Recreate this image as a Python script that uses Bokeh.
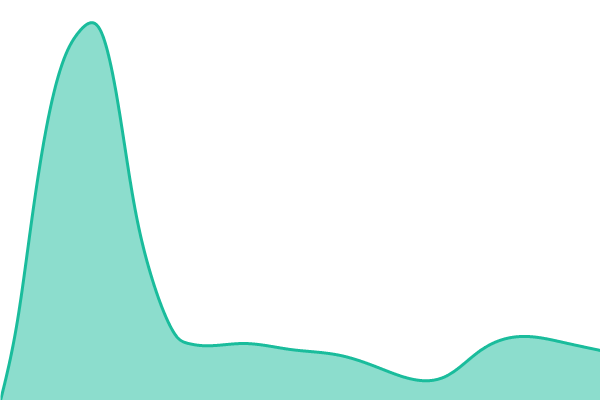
import numpy as np
from bokeh.plotting import figure
from bokeh.embed import file_html
from bokeh.resources import INLINE
from bokeh.models import Range1d

# Data (x position, value)
xs = [0, 17, 33, 50, 67, 78, 88, 100, 117, 133, 150, 167, 177, 188, 200, 243, 290, 340, 380, 420, 447, 480, 527, 563, 600]
values = [0, 80, 193, 293, 350, 368, 377, 370, 300, 200, 127, 80, 63, 57, 55, 57, 51, 45, 32, 20, 25, 50, 64, 58, 50]

LINE_COLOR = "#1abc9c"


def natural_spline(x, y, n=1500):
    x = np.asarray(x, float)
    y = np.asarray(y, float)
    k = len(x)
    h = np.diff(x)
    A = np.zeros((k, k))
    b = np.zeros(k)
    A[0, 0] = 1
    A[-1, -1] = 1
    for i in range(1, k - 1):
        A[i, i - 1] = h[i - 1]
        A[i, i] = 2 * (h[i - 1] + h[i])
        A[i, i + 1] = h[i]
        b[i] = 6 * ((y[i + 1] - y[i]) / h[i] - (y[i] - y[i - 1]) / h[i - 1])
    M = np.linalg.solve(A, b)
    xx = np.linspace(x[0], x[-1], n)
    idx = np.clip(np.searchsorted(x, xx) - 1, 0, k - 2)
    hi = h[idx]
    a = x[idx + 1] - xx
    c = xx - x[idx]
    yy = (M[idx] * a**3 / (6 * hi) + M[idx + 1] * c**3 / (6 * hi)
          + (y[idx] / hi - M[idx] * hi / 6) * a + (y[idx + 1] / hi - M[idx + 1] * hi / 6) * c)
    return xx, yy


sx, sy = natural_spline(xs, values)

p = figure(width=600, height=400, output_backend="svg", toolbar_location=None,
           x_range=Range1d(0, 600), y_range=Range1d(0, 400),
           min_border=0, min_border_left=0, min_border_right=0,
           min_border_top=0, min_border_bottom=0)
p.axis.visible = False
p.grid.visible = False
p.outline_line_color = None
p.background_fill_color = "white"
p.border_fill_color = "white"

p.varea(x=sx, y1=0, y2=sy, fill_color=LINE_COLOR, fill_alpha=0.5)
p.line(x=sx, y=sy, line_color=LINE_COLOR, line_width=3, line_join="round")

html = file_html(p, INLINE)
html = html.replace("<head>", "<head><style>html,body{margin:0;padding:0;overflow:hidden;}</style>", 1)
open("out.html", "w").write(html)
